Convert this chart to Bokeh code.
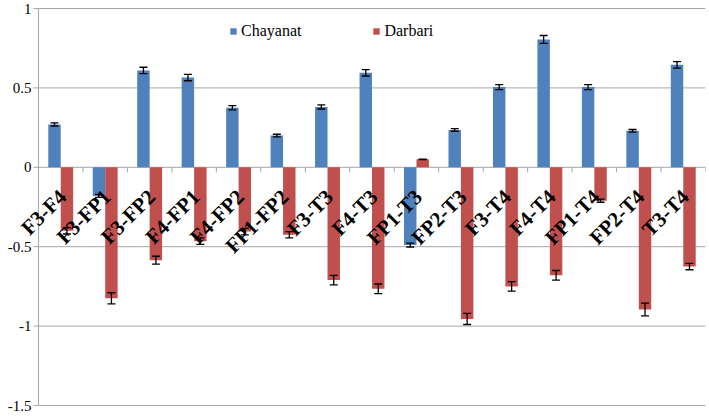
import numpy as np
from bokeh.plotting import figure
from bokeh.models import Range1d, Whisker, TeeHead, ColumnDataSource
from bokeh.core.properties import value
from bokeh.embed import file_html
from bokeh.resources import INLINE

categories = ["F3-F4", "F3-FP1", "F3-FP2", "F4-FP1", "F4-FP2", "FP1-FP2", "F3-T3", "F4-T3",
              "FP1-T3", "FP2-T3", "F3-T4", "F4-T4", "FP1-T4", "FP2-T4", "T3-T4"]
chayanat = [0.27, -0.18, 0.61, 0.565, 0.375, 0.20, 0.38, 0.595, -0.49, 0.235, 0.505, 0.805, 0.505, 0.23, 0.645]
chayanat_err = [0.01, 0.01, 0.02, 0.02, 0.013, 0.008, 0.013, 0.02, 0.012, 0.008, 0.016, 0.025, 0.016, 0.008, 0.02]
darbari = [-0.40, -0.825, -0.585, -0.465, -0.405, -0.425, -0.71, -0.765, 0.05, -0.955, -0.75, -0.68, -0.21, -0.895, -0.625]
darbari_err = [0.02, 0.035, 0.025, 0.02, 0.02, 0.02, 0.03, 0.03, 0.002, 0.035, 0.03, 0.03, 0.01, 0.04, 0.02]
y_ticks = [-1.5, -1.0, -0.5, 0.0, 0.5, 1.0]
y_tick_labels = ["-1.5", "-1", "-0.5", "0", "0.5", "1"]

BLUE = "#4F81BD"
RED = "#C0504D"
GRID = "#A6A6A6"
SERIF = "Liberation Serif"

n = len(categories)
xi = np.arange(n)
bw = 0.28
x_left = -0.5            # category axis start (where the value axis sits)
x_right = n - 0.5
px = 1 / 44.47           # one pixel in category units
pad_units = 38 * px      # room left of the value axis for its labels
py = 1 / 158.8           # one pixel in value units
y_pad = 8 * py           # room above/below the value axis for its end labels

p = figure(width=706, height=414, output_backend="svg", toolbar_location=None,
           x_range=Range1d(x_left - pad_units, x_right),
           y_range=Range1d(y_ticks[0] - y_pad, y_ticks[-1] + y_pad),
           min_border_left=0, min_border_right=1, min_border_top=0, min_border_bottom=1)
p.outline_line_color = None
p.axis.visible = False
p.grid.visible = False

# value axis: gridlines, axis line, ticks, labels
ny = len(y_ticks)
p.segment(x0=[x_left] * ny, y0=y_ticks, x1=[x_right] * ny, y1=y_ticks, line_color=GRID, line_width=1)
p.segment(x0=[x_left], y0=[y_ticks[0]], x1=[x_left], y1=[y_ticks[-1]], line_color=GRID, line_width=1)
p.segment(x0=[x_left - 5 * px] * ny, y0=y_ticks, x1=[x_left] * ny, y1=y_ticks, line_color=GRID, line_width=1)
p.text(x=[x_left] * ny, y=y_ticks, text=y_tick_labels, x_offset=-7, text_align="right",
       text_baseline="middle", text_font=value(SERIF), text_font_size="15px",
       text_color="black")

src_c = ColumnDataSource(dict(x=xi - bw / 2, top=chayanat,
                              upper=np.array(chayanat) + np.array(chayanat_err),
                              lower=np.array(chayanat) - np.array(chayanat_err)))
src_d = ColumnDataSource(dict(x=xi + bw / 2, top=darbari,
                              upper=np.array(darbari) + np.array(darbari_err),
                              lower=np.array(darbari) - np.array(darbari_err)))

p.vbar(x="x", top="top", bottom=0, width=bw, source=src_c, fill_color=BLUE, line_color=None,
       legend_label="Chayanat")
p.vbar(x="x", top="top", bottom=0, width=bw, source=src_d, fill_color=RED, line_color=None,
       legend_label="Darbari")

for s in (src_c, src_d):
    w = Whisker(base="x", upper="upper", lower="lower", source=s, line_color="black", line_width=1.3,
                upper_head=TeeHead(size=8, line_color="black", line_width=1.3),
                lower_head=TeeHead(size=8, line_color="black", line_width=1.3), level="glyph")
    p.add_layout(w)

# category axis tick marks along the zero line
bounds = np.arange(n + 1) - 0.5
p.segment(x0=bounds, y0=0, x1=bounds, y1=-0.032, line_color=GRID, line_width=1)

# category labels rotated 45 degrees under the zero line
p.text(x=xi, y=np.zeros(n), text=categories, angle=np.pi / 4, text_align="right",
       text_baseline="middle", x_offset=2, y_offset=26,
       text_font=value(SERIF), text_font_style="bold", text_font_size="21px",
       text_color="black")

lg = p.legend[0]
lg.orientation = "horizontal"
lg.location = (229, 373)
lg.border_line_color = None
lg.background_fill_alpha = 0
lg.padding = 0
lg.margin = 0
lg.spacing = 71
lg.glyph_width = 8
lg.glyph_height = 8
lg.label_standoff = 4
lg.label_text_font = SERIF
lg.label_text_font_size = "16px"
lg.label_text_color = "black"

open("out.html", "w").write(file_html(p, INLINE))
